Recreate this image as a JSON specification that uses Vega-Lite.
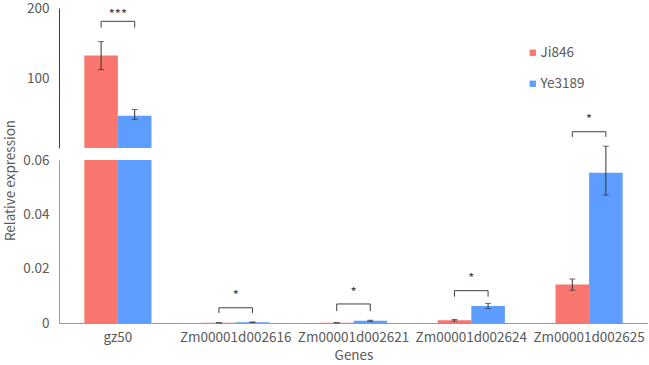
{
  "$schema": "https://vega.github.io/schema/vega-lite/v6.json",
  "padding": {"left": 2, "top": 1, "right": 0, "bottom": 0},
  "spacing": 12,
  "bounds": "flush",
  "config": {
    "view": {"stroke": null},
    "font": "Noto Sans CJK SC",
    "axis": {"labelColor": "#595959", "titleColor": "#595959", "labelFontSize": 13.5, "titleFontSize": 13.5, "titleFontWeight": "normal", "grid": false, "ticks": false},
    "legend": {"labelColor": "#595959", "labelFontSize": 13.5}
  },
  "datasets": {
    "bars": [
      {"gene": "gz50", "line": "Ji846", "value": 132, "lo": 112, "hi": 152},
      {"gene": "gz50", "line": "Ye3189", "value": 46, "lo": 41, "hi": 55},
      {"gene": "Zm00001d002616", "line": "Ji846", "value": 0.00006, "lo": 0.00005, "hi": 0.00007},
      {"gene": "Zm00001d002616", "line": "Ye3189", "value": 0.0003, "lo": 0.0002, "hi": 0.0004},
      {"gene": "Zm00001d002621", "line": "Ji846", "value": 0.0001, "lo": 0.00009, "hi": 0.00011},
      {"gene": "Zm00001d002621", "line": "Ye3189", "value": 0.0008, "lo": 0.0006, "hi": 0.001},
      {"gene": "Zm00001d002624", "line": "Ji846", "value": 0.001, "lo": 0.0007, "hi": 0.0013},
      {"gene": "Zm00001d002624", "line": "Ye3189", "value": 0.0063, "lo": 0.0053, "hi": 0.0072},
      {"gene": "Zm00001d002625", "line": "Ji846", "value": 0.0142, "lo": 0.0121, "hi": 0.0162},
      {"gene": "Zm00001d002625", "line": "Ye3189", "value": 0.0553, "lo": 0.0471, "hi": 0.0651}
    ],
    "brackets": [
      {"gene": "gz50", "side": "Ji846", "val": 172, "ord": 1},
      {"gene": "gz50", "side": "Ji846", "val": 181, "ord": 2},
      {"gene": "gz50", "side": "Ye3189", "val": 181, "ord": 3},
      {"gene": "gz50", "side": "Ye3189", "val": 172, "ord": 4},
      {"gene": "Zm00001d002616", "side": "Ji846", "val": 0.0037, "ord": 1},
      {"gene": "Zm00001d002616", "side": "Ji846", "val": 0.0056, "ord": 2},
      {"gene": "Zm00001d002616", "side": "Ye3189", "val": 0.0056, "ord": 3},
      {"gene": "Zm00001d002616", "side": "Ye3189", "val": 0.0037, "ord": 4},
      {"gene": "Zm00001d002621", "side": "Ji846", "val": 0.0044, "ord": 1},
      {"gene": "Zm00001d002621", "side": "Ji846", "val": 0.007, "ord": 2},
      {"gene": "Zm00001d002621", "side": "Ye3189", "val": 0.007, "ord": 3},
      {"gene": "Zm00001d002621", "side": "Ye3189", "val": 0.0044, "ord": 4},
      {"gene": "Zm00001d002624", "side": "Ji846", "val": 0.0097, "ord": 1},
      {"gene": "Zm00001d002624", "side": "Ji846", "val": 0.0119, "ord": 2},
      {"gene": "Zm00001d002624", "side": "Ye3189", "val": 0.0119, "ord": 3},
      {"gene": "Zm00001d002624", "side": "Ye3189", "val": 0.0097, "ord": 4},
      {"gene": "Zm00001d002625", "side": "Ji846", "val": 0.0685, "ord": 1},
      {"gene": "Zm00001d002625", "side": "Ji846", "val": 0.0704, "ord": 2},
      {"gene": "Zm00001d002625", "side": "Ye3189", "val": 0.0704, "ord": 3},
      {"gene": "Zm00001d002625", "side": "Ye3189", "val": 0.0685, "ord": 4}
    ],
    "stars": [
      {"gene": "gz50", "label": "***", "val": 190},
      {"gene": "Zm00001d002616", "label": "*", "val": 0.0099},
      {"gene": "Zm00001d002621", "label": "*", "val": 0.011},
      {"gene": "Zm00001d002624", "label": "*", "val": 0.0162},
      {"gene": "Zm00001d002625", "label": "*", "val": 0.0747}
    ]
  },
  "vconcat": [
    {
      "width": 589,
      "height": 140,
      "encoding": {
        "x": {"field": "gene", "type": "nominal", "sort": null, "title": null,
          "scale": {"domain": ["gz50", "Zm00001d002616", "Zm00001d002621", "Zm00001d002624", "Zm00001d002625"], "paddingInner": 0.43, "paddingOuter": 0.215},
          "axis": null}
      },
      "layer": [
        {
          "data": {"name": "bars"},
          "transform": [{"filter": "datum.gene === 'gz50'"}],
          "mark": {"type": "bar"},
          "encoding": {
            "xOffset": {"field": "line", "type": "nominal", "scale": {"domain": ["Ji846", "Ye3189"], "paddingInner": 0, "paddingOuter": 0}},
            "y": {"field": "value", "type": "quantitative", "scale": {"domain": [0, 200]},
              "axis": {"values": [100, 200], "title": null, "labelPadding": 10, "domainColor": "#404040", "minExtent": 40}},
            "color": {"field": "line", "type": "nominal", "scale": {"domain": ["Ji846", "Ye3189"], "range": ["#F9766E", "#5C9DFF"]},
              "legend": {"title": null, "orient": "none", "legendX": 467, "legendY": 38, "symbolType": "square", "symbolSize": 40, "rowPadding": 16, "labelOffset": 1, "symbolStrokeWidth": 0}}
          }
        },
        {
          "data": {"name": "bars"},
          "transform": [{"filter": "datum.gene === 'gz50'"}],
          "mark": {"type": "rule", "color": "#333333", "strokeWidth": 1},
          "encoding": {
            "xOffset": {"field": "line", "type": "nominal", "scale": {"domain": ["Ji846", "Ye3189"], "paddingInner": 0, "paddingOuter": 0}},
            "y": {"field": "lo", "type": "quantitative"},
            "y2": {"field": "hi"}
          }
        },
        {
          "data": {"name": "bars"},
          "transform": [{"filter": "datum.gene === 'gz50'"}],
          "mark": {"type": "tick", "color": "#333333", "size": 6, "thickness": 1},
          "encoding": {
            "xOffset": {"field": "line", "type": "nominal", "scale": {"domain": ["Ji846", "Ye3189"], "paddingInner": 0, "paddingOuter": 0}},
            "y": {"field": "lo", "type": "quantitative"}
          }
        },
        {
          "data": {"name": "bars"},
          "transform": [{"filter": "datum.gene === 'gz50'"}],
          "mark": {"type": "tick", "color": "#333333", "size": 6, "thickness": 1},
          "encoding": {
            "xOffset": {"field": "line", "type": "nominal", "scale": {"domain": ["Ji846", "Ye3189"], "paddingInner": 0, "paddingOuter": 0}},
            "y": {"field": "hi", "type": "quantitative"}
          }
        },
        {
          "data": {"name": "brackets"},
          "transform": [{"filter": "datum.gene === 'gz50'"}],
          "mark": {"type": "line", "color": "#404040", "strokeWidth": 1},
          "encoding": {
            "xOffset": {"field": "side", "type": "nominal", "scale": {"domain": ["Ji846", "Ye3189"], "paddingInner": 0, "paddingOuter": 0}},
            "y": {"field": "val", "type": "quantitative"},
            "detail": {"field": "gene"},
            "order": {"field": "ord"}
          }
        },
        {
          "data": {"name": "stars"},
          "transform": [{"filter": "datum.gene === 'gz50'"}],
          "mark": {"type": "text", "fontSize": 13, "color": "#404040", "baseline": "middle"},
          "encoding": {
            "y": {"field": "val", "type": "quantitative"},
            "text": {"field": "label"}
          }
        }
      ]
    },
    {
      "width": 589,
      "height": 163,
      "encoding": {
        "x": {"field": "gene", "type": "nominal", "sort": null,
          "scale": {"domain": ["gz50", "Zm00001d002616", "Zm00001d002621", "Zm00001d002624", "Zm00001d002625"], "paddingInner": 0.43, "paddingOuter": 0.215},
          "axis": {"title": "Genes", "labelAngle": 0, "labelPadding": 7, "titlePadding": 5, "domainColor": "#999999"}}
      },
      "layer": [
        {
          "data": {"name": "bars"},
          "mark": {"type": "bar", "clip": true},
          "encoding": {
            "xOffset": {"field": "line", "type": "nominal", "scale": {"domain": ["Ji846", "Ye3189"], "paddingInner": 0, "paddingOuter": 0}},
            "y": {"field": "value", "type": "quantitative", "scale": {"domain": [0, 0.06]},
              "axis": {"values": [0, 0.02, 0.04, 0.06], "format": ".2~f", "title": "Relative expression", "labelPadding": 10, "domainColor": "#999999", "titleX": -42, "titleY": 20, "minExtent": 40}},
            "color": {"field": "line", "type": "nominal", "legend": null}
          }
        },
        {
          "data": {"name": "bars"},
          "transform": [{"filter": "datum.gene !== 'gz50'"}],
          "mark": {"type": "rule", "color": "#333333", "strokeWidth": 1},
          "encoding": {
            "xOffset": {"field": "line", "type": "nominal", "scale": {"domain": ["Ji846", "Ye3189"], "paddingInner": 0, "paddingOuter": 0}},
            "y": {"field": "lo", "type": "quantitative"},
            "y2": {"field": "hi"}
          }
        },
        {
          "data": {"name": "bars"},
          "transform": [{"filter": "datum.gene !== 'gz50'"}],
          "mark": {"type": "tick", "color": "#333333", "size": 6, "thickness": 1},
          "encoding": {
            "xOffset": {"field": "line", "type": "nominal", "scale": {"domain": ["Ji846", "Ye3189"], "paddingInner": 0, "paddingOuter": 0}},
            "y": {"field": "lo", "type": "quantitative"}
          }
        },
        {
          "data": {"name": "bars"},
          "transform": [{"filter": "datum.gene !== 'gz50'"}],
          "mark": {"type": "tick", "color": "#333333", "size": 6, "thickness": 1},
          "encoding": {
            "xOffset": {"field": "line", "type": "nominal", "scale": {"domain": ["Ji846", "Ye3189"], "paddingInner": 0, "paddingOuter": 0}},
            "y": {"field": "hi", "type": "quantitative"}
          }
        },
        {
          "data": {"name": "brackets"},
          "transform": [{"filter": "datum.gene !== 'gz50'"}],
          "mark": {"type": "line", "color": "#404040", "strokeWidth": 1},
          "encoding": {
            "xOffset": {"field": "side", "type": "nominal", "scale": {"domain": ["Ji846", "Ye3189"], "paddingInner": 0, "paddingOuter": 0}},
            "y": {"field": "val", "type": "quantitative"},
            "detail": {"field": "gene"},
            "order": {"field": "ord"}
          }
        },
        {
          "data": {"name": "stars"},
          "transform": [{"filter": "datum.gene !== 'gz50'"}],
          "mark": {"type": "text", "fontSize": 13, "color": "#404040", "baseline": "middle"},
          "encoding": {
            "y": {"field": "val", "type": "quantitative"},
            "text": {"field": "label"}
          }
        }
      ]
    }
  ]
}
